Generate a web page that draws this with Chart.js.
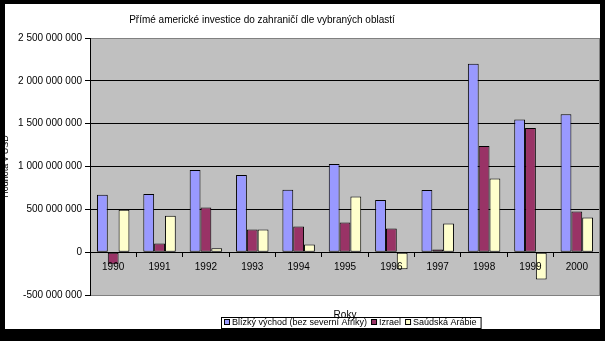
<!DOCTYPE html>
<html>
<head>
<meta charset="utf-8">
<script src="https://cdn.jsdelivr.net/npm/chart.js@4/dist/chart.umd.min.js"></script>
<style>
  html, body { margin: 0; padding: 0; background: #000; }
  #wrap { width: 605px; height: 341px; }
</style>
</head>
<body>
<div id="wrap"><canvas id="chart"></canvas></div>
<script>
// roky a hodnoty investic (USD)
const roky = ['1990', '1991', '1992', '1993', '1994', '1995', '1996', '1997', '1998', '1999', '2000'];
const blizkyVychod = [670e6, 680e6, 960e6, 900e6, 730e6, 1030e6, 610e6, 725e6, 2200e6, 1550e6, 1610e6];
const izrael = [-140e6, 100e6, 520e6, 265e6, 300e6, 345e6, 275e6, 30e6, 1240e6, 1450e6, 475e6];
const saudskaArabie = [495e6, 425e6, 45e6, 265e6, 90e6, 650e6, -200e6, 335e6, 860e6, -320e6, 405e6];

const FONT = 'Liberation Sans, Arial, sans-serif';

function formatCislo(v) {
    const s = String(Math.abs(Math.round(v))).replace(/\B(?=(\d{3})+(?!\d))/g, ' ');
    return (v < 0 ? '-' : '') + s;
}

// ramecek, titulek a legenda v excelovskem stylu
const excelFrame = {
    id: 'excelFrame',
    beforeDraw: function(chart) {
        const ctx = chart.ctx;
        const a = chart.chartArea;
        ctx.save();
        ctx.fillStyle = '#000';
        ctx.fillRect(0, 0, chart.width, chart.height);
        ctx.fillStyle = '#fff';
        ctx.fillRect(5, 4, 595, 325);
        ctx.fillStyle = '#c0c0c0';
        ctx.fillRect(a.left, a.top, a.right - a.left, a.bottom - a.top);
        ctx.restore();
    },
    afterDraw: function(chart) {
        const ctx = chart.ctx;
        const a = chart.chartArea;
        ctx.save();
        // pravy okraj plochy grafu
        ctx.strokeStyle = '#808080';
        ctx.lineWidth = 1;
        ctx.beginPath();
        ctx.moveTo(a.right - 0.5, a.top);
        ctx.lineTo(a.right - 0.5, a.bottom);
        ctx.stroke();

        // titulek
        ctx.fillStyle = '#000';
        ctx.font = '10px ' + FONT;
        ctx.textAlign = 'center';
        ctx.textBaseline = 'middle';
        ctx.fillText('Přímé americké investice do zahraničí dle vybraných oblastí', 262, 20);

        // legenda
        const ds = chart.data.datasets;
        ctx.font = '9px ' + FONT;
        ctx.textAlign = 'left';
        let x = 224;
        const y = 323;
        ds.forEach(function(d) {
            ctx.fillStyle = d.backgroundColor;
            ctx.fillRect(x + 0.5, y - 3.5, 5, 5);
            ctx.strokeStyle = '#000';
            ctx.strokeRect(x + 0.5, y - 3.5, 5, 5);
            ctx.fillStyle = '#000';
            ctx.fillText(d.label, x + 8, y);
            x += 8 + ctx.measureText(d.label).width + 4;
        });
        ctx.strokeStyle = '#000';
        ctx.strokeRect(221.5, 317.5, x - 221, 11);

        // cerny okraj
        ctx.fillStyle = '#000';
        ctx.fillRect(0, 0, chart.width, 4);
        ctx.fillRect(0, 0, 5, chart.height);
        ctx.fillRect(600, 0, 5, chart.height);
        ctx.fillRect(0, 329, chart.width, 12);
        ctx.restore();
    }
};

const ctx = document.getElementById('chart').getContext('2d');
new Chart(ctx, {
    type: 'bar',
    data: {
        labels: roky,
        datasets: [
            { label: 'Blízký východ (bez severní Afriky)', data: blizkyVychod, backgroundColor: '#9999ff' },
            { label: 'Izrael', data: izrael, backgroundColor: '#993366' },
            { label: 'Saúdská Arábie', data: saudskaArabie, backgroundColor: '#ffffcc' }
        ]
    },
    options: {
        responsive: true,
        maintainAspectRatio: false,
        animation: false,
        layout: { padding: { left: 0, right: 5, top: 38, bottom: 46 } },
        datasets: {
            bar: {
                borderColor: '#000',
                borderWidth: 1,
                borderSkipped: false,
                categoryPercentage: 0.7,
                barPercentage: 1
            }
        },
        scales: {
            x: {
                position: { y: 0 },
                grid: {
                    display: true,
                    drawOnChartArea: false,
                    offset: true,
                    tickLength: 4,
                    color: '#000',
                    z: 1
                },
                border: { display: true, color: '#000', z: 1 },
                ticks: { color: '#000', font: { family: FONT, size: 10 }, padding: 5, maxRotation: 0, z: 1 },
                title: {
                    display: true,
                    text: 'Roky',
                    color: '#000',
                    font: { family: FONT, size: 10 },
                    padding: { top: 31, bottom: 0 }
                }
            },
            y: {
                min: -500e6,
                max: 2500e6,
                afterFit: function(scale) { scale.width = 90; },
                grid: {
                    color: function(c) {
                        return (c.index === 0 || c.index === 6) ? '#808080' : '#000';
                    },
                    tickColor: '#000',
                    tickLength: 5
                },
                border: { display: true, color: '#000' },
                ticks: {
                    stepSize: 500e6,
                    color: '#000',
                    font: { family: FONT, size: 10 },
                    padding: 3,
                    callback: function(v) { return formatCislo(v); }
                },
                title: {
                    display: true,
                    text: 'Hodnota v USD',
                    color: '#000',
                    font: { family: FONT, size: 9 },
                    padding: { top: 0, bottom: 0 }
                }
            }
        },
        plugins: {
            legend: { display: false },
            title: { display: false },
            tooltip: { enabled: false }
        }
    },
    plugins: [excelFrame]
});
</script>
</body>
</html>
